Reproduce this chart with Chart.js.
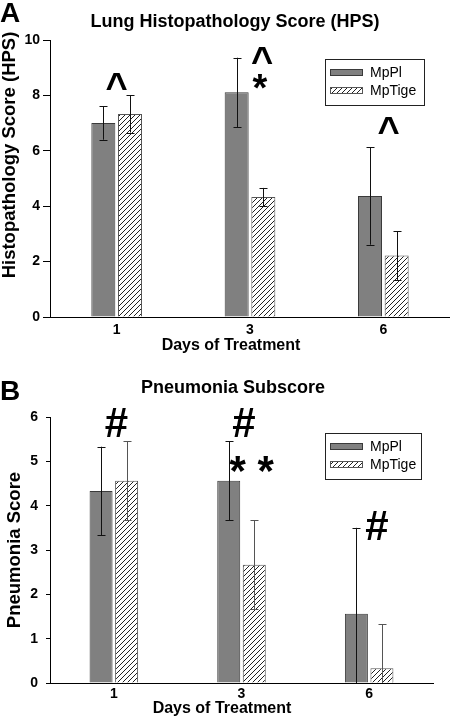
<!DOCTYPE html>
<html>
<head>
<meta charset="utf-8">
<script src="https://cdn.jsdelivr.net/npm/chart.js@4.4.1/dist/chart.umd.min.js"></script>
<style>
  body { margin: 0; background: #fff; }
  .panel { width: 450px; position: relative; }
</style>
</head>
<body>
<div class="panel" style="height:355px"><canvas id="chartA"></canvas></div>
<div class="panel" style="height:361px"><canvas id="chartB"></canvas></div>
<script>
// categories and series
const days = ['1', '3', '6'];
const seriesNames = ['MpPl', 'MpTige'];

// A - lung histopathology score (mean, sem)
const hpsMpPl = [7.0, 8.11, 4.37];
const hpsMpPlErr = [0.6, 1.25, 1.76];
const hpsMpTige = [7.33, 4.33, 2.22];
const hpsMpTigeErr = [0.67, 0.33, 0.88];

// B - pneumonia subscore
const pneuMpPl = [4.33, 4.56, 1.56];
const pneuMpPlErr = [1.0, 0.89, 1.94];
const pneuMpTige = [4.56, 2.67, 0.33];
const pneuMpTigeErr = [0.89, 1.0, 1.0];

// significance marks: text, day index (+ shift), level on y axis
const marksAText = ['^', '^', '*', '^'];
const marksAAt = [0, 1.09, 1.075, 2.04];
const marksALevel = [7.82, 8.78, 7.81, 6.25];
const marksBText = ['#', '#', '* *', '#'];
const marksBAt = [0.02, 1.02, 1.08, 2.06];
const marksBLevel = [5.55, 5.55, 4.46, 3.22];

Chart.defaults.font.family = "'Liberation Sans', Arial, sans-serif";
Chart.defaults.color = '#000';

function makeHatch() {
  const c = document.createElement('canvas');
  c.width = 5; c.height = 5;
  const g = c.getContext('2d');
  g.fillStyle = '#fff';
  g.fillRect(0, 0, 5, 5);
  g.strokeStyle = '#222';
  g.lineWidth = 1;
  g.beginPath();
  g.moveTo(0, 5); g.lineTo(5, 0);
  g.moveTo(-1, 1); g.lineTo(1, -1);
  g.moveTo(4, 6); g.lineTo(6, 4);
  g.stroke();
  return g.createPattern(c, 'repeat');
}
const hatch = makeHatch();

// error bars drawn over the bars
const errorBars = {
  id: 'errorBars',
  afterDatasetsDraw(chart) {
    const ctx = chart.ctx;
    const y = chart.scales.y;
    const area = chart.chartArea;
    ctx.save();
    ctx.lineWidth = 1;
    chart.data.datasets.forEach((ds, i) => {
      ctx.strokeStyle = ds.errColor;
      chart.getDatasetMeta(i).data.forEach((bar, j) => {
        const v = ds.data[j], e = ds.err[j];
        const x = Math.round(bar.x) + 0.5;
        const top = y.getPixelForValue(v + e);
        const bot = Math.min(y.getPixelForValue(v - e), area.bottom);
        ctx.beginPath();
        ctx.moveTo(x, top); ctx.lineTo(x, bot);
        ctx.moveTo(x - 4, Math.round(top) + 0.5); ctx.lineTo(x + 4, Math.round(top) + 0.5);
        if (v - e > y.min) {
          ctx.moveTo(x - 4, Math.round(bot) + 0.5); ctx.lineTo(x + 4, Math.round(bot) + 0.5);
        }
        ctx.stroke();
      });
    });
    ctx.restore();
  }
};

// panel letter, titles, legend box and marks
const decorations = {
  id: 'decorations',
  afterDraw(chart, args, o) {
    const ctx = chart.ctx;
    const xs = chart.scales.x, ys = chart.scales.y;
    ctx.save();
    ctx.fillStyle = '#000';
    ctx.textBaseline = 'alphabetic';

    ctx.font = "bold 28px 'Liberation Sans', Arial";
    ctx.textAlign = 'left';
    ctx.fillText(o.letter, 0, o.letterY);

    ctx.font = "bold 18px 'Liberation Sans', Arial";
    ctx.textAlign = 'center';
    ctx.fillText(o.title, o.titleX, o.titleY);

    ctx.font = "bold 16px 'Liberation Sans', Arial";
    ctx.fillText('Days of Treatment', o.xTitleX, o.xTitleY);

    ctx.save();
    ctx.translate(o.yTitleX, o.yTitleY);
    ctx.rotate(-Math.PI / 2);
    ctx.font = "bold 18.5px 'Liberation Sans', Arial";
    ctx.fillText(o.yTitle, 0, 0);
    ctx.restore();

    // legend
    const lx = o.legendX, ly = o.legendY;
    ctx.strokeStyle = '#222';
    ctx.lineWidth = 1;
    ctx.strokeRect(lx + 0.5, ly + 0.5, o.legendW, 46);
    ctx.font = "14px 'Liberation Sans', Arial";
    ctx.textAlign = 'left';
    ctx.textBaseline = 'middle';
    chart.data.datasets.forEach((ds, i) => {
      const sy = ly + 10 + i * 18;
      ctx.fillStyle = ds.backgroundColor;
      ctx.fillRect(lx + 5, sy, 33, 7);
      ctx.strokeStyle = ds.borderColor;
      ctx.strokeRect(lx + 5.5, sy + 0.5, 32, 6);
      ctx.fillStyle = '#000';
      ctx.fillText(ds.label, lx + 45, sy + 4);
    });

    // significance marks
    ctx.textAlign = 'center';
    ctx.textBaseline = 'alphabetic';
    o.marks.text.forEach((t, k) => {
      ctx.font = 'bold ' + (t === '^' || t === '*' ? 38 : 42) + "px 'Liberation Sans', Arial";
      ctx.fillText(t, xs.getPixelForValue(o.marks.at[k]), ys.getPixelForValue(o.marks.level[k]));
    });
    ctx.restore();
  }
};

function buildChart(id, p) {
  return new Chart(document.getElementById(id), {
    type: 'bar',
    data: {
      labels: days,
      datasets: [
        { label: seriesNames[0], data: p.pl, err: p.plErr, backgroundColor: '#808080', errColor: '#111',
          borderColor: '#3a3a3a', borderWidth: 1, categoryPercentage: 0.4, barPercentage: 0.9 },
        { label: seriesNames[1], data: p.tige, err: p.tigeErr, backgroundColor: hatch, errColor: p.tigeErrColor,
          borderColor: '#555', borderWidth: 1, categoryPercentage: 0.4, barPercentage: 0.9 }
      ]
    },
    options: {
      responsive: true,
      maintainAspectRatio: false,
      animation: false,
      layout: { padding: { top: p.top, right: p.right, left: 0, bottom: 0 } },
      plugins: {
        legend: { display: false },
        tooltip: { enabled: false },
        decorations: p.deco
      },
      scales: {
        x: {
          grid: { display: false },
          border: { color: '#000', width: 1 },
          ticks: { color: '#000', font: { size: 14, weight: 'bold' }, padding: p.xPad },
          afterFit: s => { s.height = p.xh; }
        },
        y: {
          min: 0, max: p.max,
          ticks: { stepSize: p.step, color: '#000', font: { size: 14, weight: 'bold' }, padding: p.yPad },
          grid: { drawOnChartArea: false, tickLength: p.tick, color: '#000' },
          border: { color: '#000', width: 1 },
          afterFit: s => { s.width = 50; }
        }
      }
    },
    plugins: [errorBars, decorations]
  });
}

buildChart('chartA', {
  pl: hpsMpPl, plErr: hpsMpPlErr, tige: hpsMpTige, tigeErr: hpsMpTigeErr, tigeErrColor: '#111',
  max: 10, step: 2, top: 40, right: 0, xh: 38, xPad: -3, yPad: 3, tick: 7,
  deco: {
    letter: 'A', letterY: 22,
    title: 'Lung Histopathology Score (HPS)', titleX: 235, titleY: 27,
    yTitle: 'Histopathology Score (HPS)', yTitleX: 15, yTitleY: 155,
    xTitleX: 231, xTitleY: 350,
    legendX: 325, legendY: 59, legendW: 99,
    marks: { text: marksAText, at: marksAAt, level: marksALevel }
  }
});

buildChart('chartB', {
  pl: pneuMpPl, plErr: pneuMpPlErr, tige: pneuMpTige, tigeErr: pneuMpTigeErr, tigeErrColor: '#555',
  max: 6, step: 1, top: 62, right: 17, xh: 33, xPad: -5, yPad: 8, tick: 4,
  deco: {
    letter: 'B', letterY: 45,
    title: 'Pneumonia Subscore', titleX: 233, titleY: 38,
    yTitle: 'Pneumonia Score', yTitleX: 20, yTitleY: 195,
    xTitleX: 222, xTitleY: 358,
    legendX: 325, legendY: 78, legendW: 96,
    marks: { text: marksBText, at: marksBAt, level: marksBLevel }
  }
});
</script>
</body>
</html>
